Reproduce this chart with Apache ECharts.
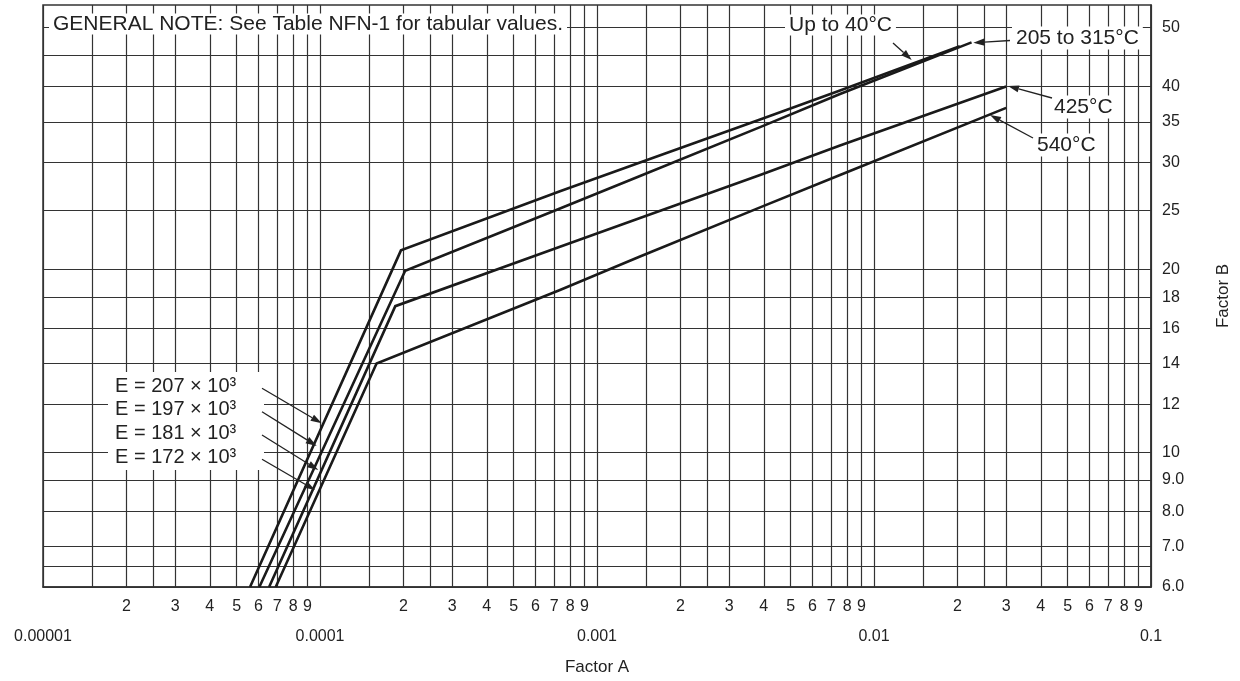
<!DOCTYPE html>
<html><head><meta charset="utf-8">
<script src="https://cdn.jsdelivr.net/npm/echarts@6/dist/echarts.min.js"></script>
<style>html,body{margin:0;padding:0;background:#fff}#c{width:1240px;height:681px}</style>
</head><body><div id="c"></div>
<script>
// ---- axis / tick data ----
const decades = [0.00001, 0.0001, 0.001, 0.01, 0.1];
const gridMantissas = [1, 1.5, 2, 2.5, 3, 4, 5, 6, 7, 8, 9];
const labelMantissas = [2, 3, 4, 5, 6, 7, 8, 9];
const yGridValues = [6, 6.5, 7, 8, 9, 10, 12, 14, 16, 18, 20, 25, 30, 35, 40, 45, 50];
const yLabelValues = [6, 7, 8, 9, 10, 12, 14, 16, 18, 20, 25, 30, 35, 40, 50];

// ---- curve data (Factor A, Factor B) ----
const a_up40 = [5.59e-5, 1.96e-4, 7.35e-4, 1.43e-3, 3.88e-3, 7.54e-3, 2.04e-2];
const b_up40 = [6.0, 21.5, 26.9, 30.0, 35.3, 39.4, 46.6];
const a_205 = [6.04e-5, 2.03e-4, 7.35e-4, 1.43e-3, 3.88e-3, 7.54e-3, 2.25e-2];
const b_205 = [6.0, 19.9, 25.2, 28.5, 34.3, 38.9, 47.3];
const a_425 = [6.55e-5, 1.87e-4, 7.35e-4, 1.43e-3, 3.88e-3, 7.54e-3, 3.0e-2];
const b_425 = [6.0, 17.4, 21.8, 24.3, 28.6, 32.0, 40.0];
const a_540 = [6.92e-5, 1.60e-4, 7.35e-4, 1.43e-3, 3.88e-3, 7.54e-3, 3.0e-2];
const b_540 = [6.0, 14.0, 18.5, 21.0, 25.3, 28.6, 36.9];

const curveNames = ['Up to 40°C', '205 to 315°C', '425°C', '540°C'];
const eLabels = ['E = 207 × 10³', 'E = 197 × 10³', 'E = 181 × 10³', 'E = 172 × 10³'];
const noteText = 'GENERAL NOTE: See Table NFN-1 for tabular values.';

const FONT = '"Liberation Sans", Arial, Helvetica, sans-serif';
const INK = '#222';

const xGrid = [];
decades.slice(0, 4).forEach(d => gridMantissas.forEach(m => xGrid.push(+(m * d).toPrecision(6))));
xGrid.push(decades[4]);
const xMinorLabels = [];
decades.slice(0, 4).forEach(d => labelMantissas.forEach(m => xMinorLabels.push(+(m * d).toPrecision(6))));

function zip(a, b) { return a.map((v, i) => [v, b[i]]); }
const curves = [[a_up40, b_up40], [a_205, b_205], [a_425, b_425], [a_540, b_540]];

function arrow(x1, y1, x2, y2) {
  const ang = Math.atan2(y2 - y1, x2 - x1);
  const L = 11, W = 3.6;
  const bx = x2 - L * Math.cos(ang), by = y2 - L * Math.sin(ang);
  const px = -Math.sin(ang) * W, py = Math.cos(ang) * W;
  return [
    { type: 'line', z: 110, shape: { x1: x1, y1: y1, x2: bx, y2: by }, style: { stroke: INK, lineWidth: 1.3 } },
    { type: 'polygon', z: 110, shape: { points: [[x2, y2], [bx + px, by + py], [bx - px, by - py]] }, style: { fill: INK } }
  ];
}
function label(text, x, y, size, pad) {
  return { type: 'text', z: 105, style: { text: text, x: x, y: y, fill: INK, font: size + 'px ' + FONT,
    verticalAlign: 'middle', backgroundColor: '#fff', padding: pad || [0, 4] } };
}

const graphics = [];
graphics.push(label(noteText, 49, 24, 21, [0, 4]));
graphics.push(label(curveNames[0], 785, 25, 21, [0, 4]));
graphics.push(label(curveNames[1], 1012, 38, 21, [1, 4]));
graphics.push(label(curveNames[2], 1050, 107, 21, [1, 4]));
graphics.push(label(curveNames[3], 1033, 145, 21, [1, 4]));
graphics.push({ type: 'rect', z: 104, shape: { x: 108, y: 372, width: 156, height: 98 }, style: { fill: '#fff' } });
eLabels.forEach((t, i) => graphics.push(label(t, 111, 386 + i * 23.7, 20, [0, 4])));
graphics.push(...arrow(893, 43, 911.7, 60));
graphics.push(...arrow(1010, 40.5, 973.3, 42.7));
graphics.push(...arrow(1052, 98, 1008, 86));
graphics.push(...arrow(1033, 138, 990, 115));
graphics.push(...arrow(262, 388.3, 321.7, 423.3));
graphics.push(...arrow(262, 411.7, 316.7, 446));
graphics.push(...arrow(262, 435, 318.3, 470));
graphics.push(...arrow(262, 459.3, 315, 490));

const chart = echarts.init(document.getElementById('c'));
chart.setOption({
  animation: false,
  backgroundColor: '#fff',
  textStyle: { fontFamily: FONT },
  grid: { left: 43, right: 89, top: 5, bottom: 94, show: true, borderColor: '#333', borderWidth: 1.5,
          containLabel: false, outerBoundsMode: 'none' },
  xAxis: [
    { type: 'log', logBase: 10, min: decades[0], max: decades[4], position: 'bottom',
      name: 'Factor A', nameLocation: 'middle', nameGap: 72,
      nameTextStyle: { color: INK, fontSize: 17, fontFamily: FONT },
      axisLine: { show: true, lineStyle: { color: '#333', width: 1.5 } },
      axisTick: { show: false, customValues: xGrid },
      splitLine: { show: true, lineStyle: { color: '#333', width: 1.2 } },
      minorTick: { show: false }, minorSplitLine: { show: false },
      axisLabel: { customValues: xMinorLabels, margin: 12, color: INK, fontSize: 16, fontFamily: FONT,
        formatter: v => String(Math.round(v / Math.pow(10, Math.floor(Math.log10(v) + 1e-9)))) } },
    { type: 'log', logBase: 10, min: decades[0], max: decades[4], position: 'bottom', offset: 0,
      axisLine: { show: false }, axisTick: { show: false, customValues: decades },
      splitLine: { show: false },
      axisLabel: { customValues: decades, margin: 42, color: INK, fontSize: 16, fontFamily: FONT,
        formatter: v => String(v) } }
  ],
  yAxis: {
    type: 'log', logBase: 10, min: 6, max: 54.5, position: 'right',
    name: 'Factor B', nameLocation: 'middle', nameGap: 64, nameRotate: 90,
    nameTextStyle: { color: INK, fontSize: 17, fontFamily: FONT },
    axisLine: { show: true, lineStyle: { color: '#333', width: 1.5 } },
    axisTick: { show: false, customValues: yGridValues },
    splitLine: { show: true, lineStyle: { color: '#333', width: 1.2 } },
    axisLabel: { customValues: yLabelValues, margin: 11, color: INK, fontSize: 16, fontFamily: FONT,
      formatter: v => (v < 10 ? v.toFixed(1) : String(Math.round(v))) }
  },
  series: curves.map((c, i) => ({
    name: curveNames[i], type: 'line', xAxisIndex: 0, yAxisIndex: 0, symbol: 'none', z: 3,
    lineStyle: { color: '#1a1a1a', width: 2.6, join: 'miter' }, data: zip(c[0], c[1])
  })),
  graphic: graphics
});
</script></body></html>
